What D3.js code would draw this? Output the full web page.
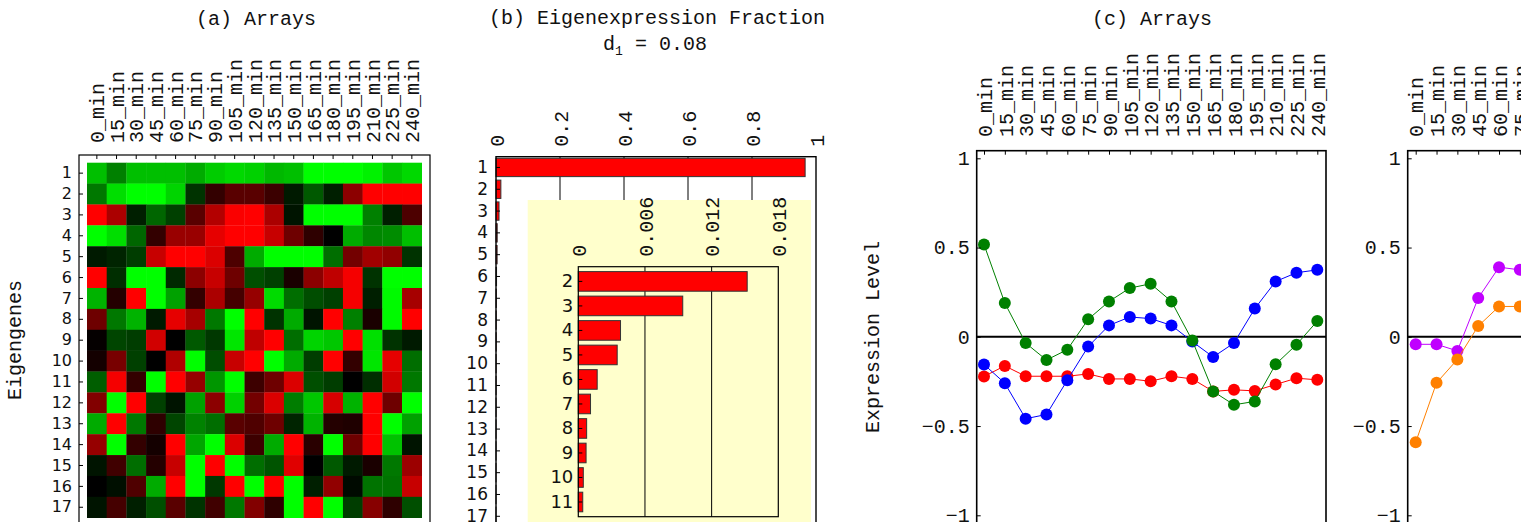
<!DOCTYPE html>
<html>
<head>
<meta charset="utf-8">
<script src="https://cdn.jsdelivr.net/npm/d3@7"></script>
<style>
  body { margin: 0; background: #fff; }
  .mono { font-family: "Liberation Mono", "Courier New", monospace; }
  .sans { font-family: "DejaVu Sans", sans-serif; }
</style>
</head>
<body>
<div id="chart"></div>
<script>
const times = ["0_min", "15_min", "30_min", "45_min", "60_min", "75_min", "90_min", "105_min", "120_min",
  "135_min", "150_min", "165_min", "180_min", "195_min", "210_min", "225_min", "240_min"];
const eigengenes = ["1", "2", "3", "4", "5", "6", "7", "8", "9", "10", "11", "12", "13", "14", "15", "16", "17"];

// (a) eigengene expression, -1 (green) .. 1 (red)
const arrayPatterns = [
  [-0.75, -0.5, -0.75, -0.75, -0.75, -0.67, -0.8, -0.85, -0.82, -0.72, -0.75, -1, -1, -1, -0.95, -0.78, -0.85],
  [-0.47, -0.87, -1, -1, -0.83, -0.2, 0.2, 0.35, 0.35, 0.23, -0.1, -0.35, -0.12, 0.55, 1, 1, 1],
  [1, 0.67, -0.12, -0.4, -0.25, 0.35, 0.7, 0.98, 1, 0.67, -0.08, -1, -1, -1, -0.5, -0.12, 0.3],
  [-1, -0.87, -0.4, 0.2, 0.6, 0.6, 0.9, 1, 1, 0.78, 0.43, 0.18, 0, -0.67, -0.53, -0.55, -0.75],
  [-0.1, -0.14, -0.24, 0.78, 1, 1, 0.86, 0.3, -0.67, -1, -1, -1, -0.43, 0.45, 0.63, 0.57, -0.2],
  [1, -0.18, -1, -1, -0.16, 0.55, 0.78, 0.43, -0.31, -0.25, 0.1, 0.55, 0.75, 0.96, -0.2, -1, -1],
  [-0.7, 0.14, 1, -1, -0.63, 0.2, 0.67, 0.27, 0.59, -0.86, -0.43, -0.3, -0.25, 0.96, -0.12, -0.98, 0.65],
  [0.43, -0.47, -0.7, -0.1, 0.9, 0.65, -0.47, -1, 1, -0.2, -0.67, -0.08, 1, -0.5, 0.1, -0.98, 1],
  [0.02, -0.27, -0.24, 0.82, 0, -0.35, -0.22, -0.9, 0.75, 1, -0.43, -0.83, -0.78, 1, -0.88, -0.2, -0.1],
  [0.08, 0.47, -0.25, 0, 0.69, -1, -0.3, 0.78, 1, -1, -0.67, -0.24, 1, 0.2, -0.9, 0.9, -0.43],
  [-0.37, 0.96, 0.2, -1, 1, 0.59, -0.59, -1, 0.24, 0.43, 0.86, -0.31, -0.24, 0, -0.18, 0.82, -0.47],
  [0.51, -1, 1, -0.25, -0.08, -0.63, 0.55, -0.82, 0.45, 0.86, -0.49, -0.78, 0.84, -0.7, 1, 0.43, -1],
  [-0.67, 1, -0.47, 0.18, -0.27, -0.51, -0.43, 0.35, 0.31, 0.43, -0.14, -0.7, 0.14, 0.12, 1, -1, -0.63],
  [0.59, -1, 0.2, 0.08, 1, -0.65, -1, 0.86, 0.24, -0.67, 1, 0.16, -1, 0.43, 1, -0.76, -0.08],
  [-0.08, 0.25, -0.43, 0.14, 0.78, -1, 1, -1, -0.43, -0.33, 0.88, 0, -0.35, -0.1, 0.1, -0.47, 0.61],
  [0, -0.06, 0.31, -0.67, 1, -1, -0.22, 1, -1, 1, -1, -0.12, 0.57, -0.04, -0.45, -0.45, 0.78],
  [-0.08, 0.27, -0.12, -0.31, 0.35, -0.2, 0.25, -0.47, 0.51, 0.18, -1, 1, -1, -0.24, 0.53, 0.18, -0.31]
];

// (b) eigenexpression fractions
const fractions = [0.966, 0.0152, 0.0094, 0.0038, 0.0035, 0.0017, 0.0011, 0.00075, 0.0007, 0.00045,
  0.0004, 0.0003, 0.00025, 0.0002, 0.00015, 0.0001, 0.00005];
const insetLabels = ["2", "3", "4", "5", "6", "7", "8", "9", "10", "11"];
const fractionTicks = [0, 0.2, 0.4, 0.6, 0.8, 1];
const insetTicks = [0, 0.006, 0.012, 0.018];

// (c) eigengenes 1-3 across arrays
const eigengene1 = [-0.222, -0.163, -0.221, -0.221, -0.221, -0.208, -0.236, -0.236, -0.249, -0.221,
  -0.236, -0.306, -0.297, -0.303, -0.267, -0.232, -0.241];
const eigengene2 = [-0.155, -0.26, -0.459, -0.435, -0.243, -0.055, 0.064, 0.111, 0.102, 0.064,
  -0.027, -0.113, -0.035, 0.158, 0.31, 0.359, 0.375];
const eigengene3 = [0.517, 0.189, -0.035, -0.13, -0.072, 0.098, 0.198, 0.273, 0.297, 0.198,
  -0.021, -0.306, -0.381, -0.362, -0.154, -0.044, 0.088];
const levelTicks = [1, 0.5, 0, -0.5, -1];

// (d) only the first arrays are inside the picture
const panelDSeriesA = [-0.042, -0.042, -0.079, 0.217, 0.39, 0.375];
const panelDSeriesB = [-0.591, -0.258, -0.127, 0.06, 0.17, 0.17];

const width = 1521, height = 522;
const svg = d3.select("#chart").append("svg")
  .attr("width", width)
  .attr("height", height);

const FS = 20;
function monoText(g) { g.attr("class", "mono").attr("font-size", FS).attr("fill", "#111"); }

function rotateTicks(axis, pad) {
  axis.select(".domain").remove();
  axis.selectAll(".tick line").attr("stroke", "#000");
  axis.selectAll(".tick text")
    .attr("class", "mono")
    .attr("font-size", FS)
    .attr("fill", "#111")
    .attr("transform", "rotate(-90)")
    .attr("text-anchor", "start")
    .attr("x", pad)
    .attr("y", 0)
    .attr("dy", "0.36em");
  return axis;
}

function topLabels(scale, y, pad, tickLen, values, fmt) {
  const ax = d3.axisTop(scale).tickSizeInner(-tickLen).tickSizeOuter(0).tickPadding(0);
  if (values) ax.tickValues(values).tickFormat(fmt);
  const axis = svg.append("g")
    .attr("transform", "translate(0," + y + ")")
    .call(ax);
  return rotateTicks(axis, pad);
}

function leftLabels(scale, x, pad, cls, size, fmt) {
  const ax = d3.axisLeft(scale).tickSizeInner(-4).tickSizeOuter(0).tickPadding(pad);
  if (fmt) ax.tickValues(fmt.values).tickFormat(fmt.format);
  const axis = svg.append("g")
    .attr("transform", "translate(" + x + ",0)")
    .call(ax);
  axis.select(".domain").remove();
  axis.selectAll(".tick line").attr("stroke", "#000");
  axis.selectAll(".tick text")
    .attr("class", cls)
    .attr("font-size", size)
    .attr("fill", "#111");
  return axis;
}

// ---------- (a) Arrays heatmap ----------
const hx = d3.scaleBand().domain(times).range([87, 421.7]);
const hy = d3.scaleBand().domain(eigengenes).range([162.7, 517.7]);
const heatColor = d3.scaleLinear().domain([-1, 0, 1]).range(["#00ff00", "#000000", "#ff0000"]);

svg.append("g").selectAll("g")
  .data(arrayPatterns)
  .enter().append("g")
  .each(function (row, i) {
    d3.select(this).selectAll("rect")
      .data(row)
      .enter().append("rect")
      .attr("x", (d, j) => hx(times[j]))
      .attr("y", hy(eigengenes[i]))
      .attr("width", hx.bandwidth() + 0.3)
      .attr("height", hy.bandwidth() + 0.3)
      .attr("fill", d => heatColor(d));
  });

svg.append("rect")
  .attr("x", 79).attr("y", 155)
  .attr("width", 351).attr("height", 400)
  .attr("fill", "none").attr("stroke", "#000").attr("stroke-width", 1.2);

topLabels(hx, 155, 12, 4);
leftLabels(hy, 79, 7, "sans", 16);

svg.append("text").call(monoText)
  .attr("x", 256).attr("y", 25).attr("text-anchor", "middle")
  .text("(a) Arrays");
svg.append("text").call(monoText)
  .attr("transform", "translate(14,340) rotate(-90)")
  .attr("dy", "0.36em").attr("text-anchor", "middle")
  .text("Eigengenes");

// ---------- (b) Eigenexpression fraction ----------
const bx = d3.scaleLinear().domain([0, 1]).range([496, 816]);
const by = d3.scaleBand().domain(eigengenes).range([157, 157 + 17 * 21.75]).paddingInner(0.16).paddingOuter(0.06);

svg.append("g").selectAll("line")
  .data(fractionTicks.slice(1, -1))
  .enter().append("line")
  .attr("x1", d => bx(d)).attr("x2", d => bx(d))
  .attr("y1", 157).attr("y2", 560)
  .attr("stroke", "#000").attr("stroke-width", 1);

svg.append("g").selectAll("rect")
  .data(fractions)
  .enter().append("rect")
  .attr("x", bx(0))
  .attr("y", (d, i) => by(eigengenes[i]))
  .attr("width", d => bx(d) - bx(0))
  .attr("height", by.bandwidth())
  .attr("fill", "#ff0000")
  .attr("stroke", "#333").attr("stroke-width", 1);

svg.append("rect")
  .attr("x", 496).attr("y", 156.7)
  .attr("width", 320).attr("height", 400)
  .attr("fill", "none").attr("stroke", "#000").attr("stroke-width", 1.4);

topLabels(bx, 156.7, 10, 0, fractionTicks, d3.format("~g"));
leftLabels(by, 496, 8, "sans", 17);

// inset
const ix = d3.scaleLinear().domain([0, 0.018]).range([578.3, 778.3]);
const iy = d3.scaleBand().domain(insetLabels).range([266.7, 516.7]).padding(0.2);

svg.append("rect")
  .attr("x", 527.7).attr("y", 200)
  .attr("width", 283.3).attr("height", 340)
  .attr("fill", "#ffffcc");

svg.append("g").selectAll("line")
  .data(insetTicks.slice(1, -1))
  .enter().append("line")
  .attr("x1", d => ix(d)).attr("x2", d => ix(d))
  .attr("y1", 266.7).attr("y2", 516.7)
  .attr("stroke", "#000").attr("stroke-width", 1);

svg.append("g").selectAll("rect")
  .data(fractions.slice(1, 11))
  .enter().append("rect")
  .attr("x", ix(0))
  .attr("y", (d, i) => iy(insetLabels[i]))
  .attr("width", d => ix(d) - ix(0))
  .attr("height", iy.bandwidth())
  .attr("fill", "#ff0000")
  .attr("stroke", "#333").attr("stroke-width", 1);

svg.append("rect")
  .attr("x", 578.3).attr("y", 266.7)
  .attr("width", 200).attr("height", 250)
  .attr("fill", "none").attr("stroke", "#000").attr("stroke-width", 1.2);

topLabels(ix, 266.7, 10, 0, insetTicks, d => d ? d3.format(".3f")(d) : "0");
leftLabels(iy, 578.3, 5, "sans", 18);

svg.append("text").call(monoText)
  .attr("x", 657).attr("y", 24).attr("text-anchor", "middle")
  .text("(b) Eigenexpression Fraction");
const dTitle = svg.append("text").call(monoText)
  .attr("x", 655).attr("y", 50).attr("text-anchor", "middle");
dTitle.append("tspan").text("d");
dTitle.append("tspan").attr("font-size", 13).attr("dy", 5).text("1");
dTitle.append("tspan").attr("dy", -5).text(" = 0.08");

// ---------- (c) Arrays, eigengene levels ----------
const ly = d3.scaleLinear().domain([-1, 1]).range([515.3, 158.3]);
const levelFmt = d => d === 0 ? "0" : d3.format("~g")(d);

function linePanel(x0, frameLeft, series, colors) {
  const px = d3.scalePoint().domain(times).range([x0, x0 + 333.3]);

  svg.append("line")
    .attr("x1", frameLeft).attr("x2", frameLeft + 349.3)
    .attr("y1", ly(0)).attr("y2", ly(0))
    .attr("stroke", "#000").attr("stroke-width", 2);

  const line = d3.line()
    .x((d, i) => px(times[i]))
    .y(d => ly(d));

  series.forEach((s, k) => {
    svg.append("path")
      .datum(s)
      .attr("d", line)
      .attr("fill", "none")
      .attr("stroke", colors[k])
      .attr("stroke-width", 1);
    svg.append("g").selectAll("circle")
      .data(s)
      .enter().append("circle")
      .attr("cx", (d, i) => px(times[i]))
      .attr("cy", d => ly(d))
      .attr("r", 6)
      .attr("fill", colors[k]);
  });

  svg.append("rect")
    .attr("x", frameLeft).attr("y", 150.7)
    .attr("width", 349.3).attr("height", 400)
    .attr("fill", "none").attr("stroke", "#000").attr("stroke-width", 1.6);

  topLabels(px, 150.7, 13.7, 4);
  leftLabels(ly, frameLeft, 7, "mono", FS, { values: levelTicks, format: levelFmt });
}

linePanel(984, 976.7, [eigengene1, eigengene2, eigengene3], ["#ff0000", "#0000ff", "#008000"]);
linePanel(1415.7, 1407.7, [panelDSeriesA, panelDSeriesB], ["#c000ff", "#ff8000"]);

svg.append("text").call(monoText)
  .attr("x", 1152).attr("y", 25).attr("text-anchor", "middle")
  .text("(c) Arrays");
svg.append("text").call(monoText)
  .attr("transform", "translate(872,337) rotate(-90)")
  .attr("dy", "0.36em").attr("text-anchor", "middle")
  .text("Expression Level");
</script>
</body>
</html>
